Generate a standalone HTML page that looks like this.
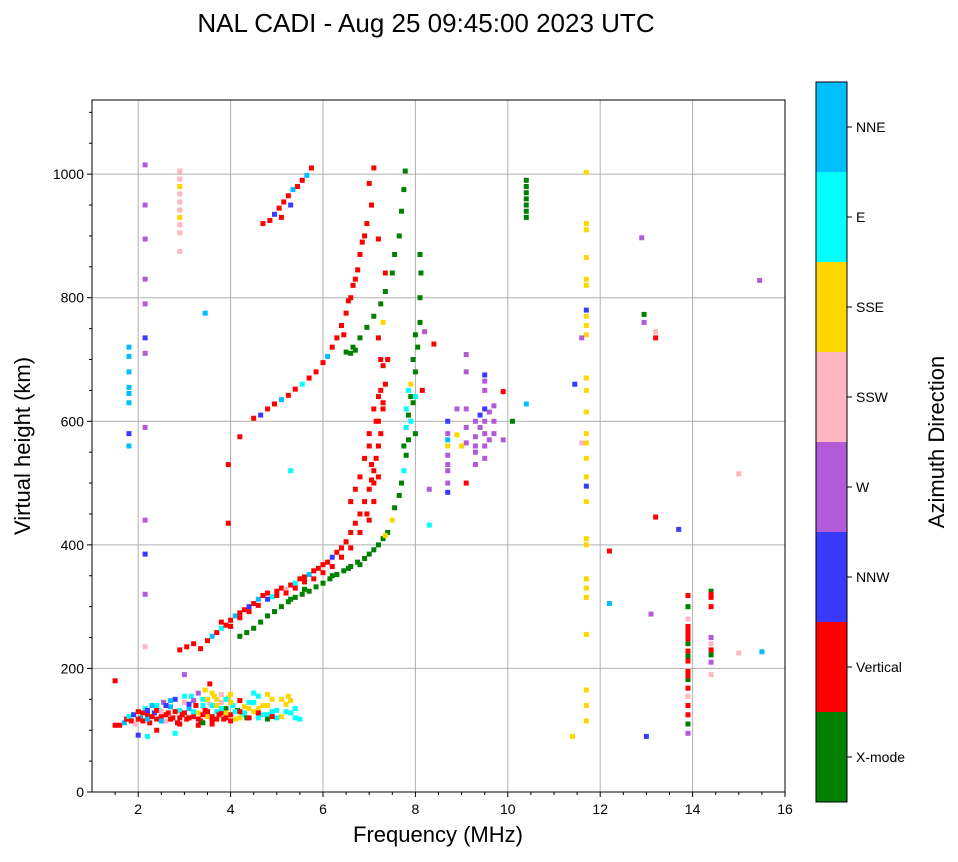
<!DOCTYPE html>
<html><head><meta charset="utf-8"><style>
body{margin:0;background:#fff;font-family:"Liberation Sans",sans-serif}
svg text{font-family:"Liberation Sans",sans-serif}
</style></head><body>
<svg id="chart" width="958" height="857" xmlns="http://www.w3.org/2000/svg">
<text x="426" y="32" font-size="26" text-anchor="middle">NAL CADI - Aug 25 09:45:00 2023 UTC</text>
<g id="grid"></g>
<g id="marks"></g>
<rect x="92" y="100" width="693" height="692" fill="none" stroke="#000" stroke-width="1"/>
<g id="axes"></g>
<text x="438" y="842" font-size="22" text-anchor="middle">Frequency (MHz)</text>
<text transform="translate(30,446) rotate(-90)" font-size="22" text-anchor="middle">Virtual height (km)</text>
<g id="cbar"></g>
<text transform="translate(944,442) rotate(-90)" font-size="22" text-anchor="middle">Azimuth Direction</text>
</svg>
<script>
const xTicks=[2,4,6,8,10,12,14,16];
const yTicks=[0,200,400,600,800,1000];
const dirLabels=["X-mode","Vertical","NNW","W","SSW","SSE","E","NNE"];
const dirColors=["#008000","#ff0000","#3a3aff","#b35ad8","#ffb6c1","#ffd700","#00ffff","#00bfff"];
// [freq MHz, height km, direction index]
const eLayer=[[1.6,108,1],[1.7,112,7],[1.75,118,1],[1.8,122,6],[1.85,115,1],[1.9,125,2],[1.95,110,4],[2.0,130,1],[2.05,120,7],[2.1,115,1],[2.15,135,6],[2.2,125,1],[2.25,112,1],[2.3,140,7],[2.35,128,2],[2.4,118,1],[2.45,132,6],[2.5,122,1],[2.55,145,3],[2.6,115,4],[2.65,128,1],[2.7,138,7],[2.75,120,1],[2.8,150,2],[2.85,112,1],[2.9,132,6],[2.95,125,1],[3.0,145,4],[3.05,118,1],[3.1,135,7],[3.15,155,6],[3.2,122,1],[3.25,140,1],[3.3,128,5],[3.35,115,1],[3.4,150,6],[3.45,132,1],[3.5,122,5],[3.55,142,4],[3.6,118,1],[3.65,155,5],[3.7,130,6],[3.75,125,1],[3.8,145,4],[3.85,118,1],[3.9,135,0],[3.95,152,5],[4.0,125,1],[4.05,140,6],[4.1,118,5],[4.15,132,0],[4.2,148,1],[4.25,125,6],[4.3,138,5],[4.35,120,0],[4.4,145,6],[4.5,130,5],[4.6,120,6],[4.7,140,5],[4.8,125,6],[4.9,150,5],[5.0,132,6],[5.1,122,5],[5.2,142,5],[5.3,128,6],[5.4,120,6],[5.5,118,6],[2.2,90,6],[2.0,92,2],[2.4,100,1],[2.9,110,1],[3.3,108,1],[3.55,175,1],[3.0,190,3],[1.5,180,1],[1.5,108,1],[2.8,95,6]];
const eLayer2=[[2.0,118,1],[2.1,128,1],[2.2,118,7],[2.3,122,1],[2.4,132,1],[2.5,115,7],[2.6,125,1],[2.7,118,1],[2.8,130,1],[2.9,120,1],[3.0,128,1],[3.1,120,1],[3.2,130,6],[3.3,118,1],[3.4,125,1],[3.5,130,1],[3.6,122,1],[3.7,118,1],[3.8,128,1],[3.9,120,1],[4.0,115,1],[3.4,140,6],[3.5,150,5],[3.6,160,5],[3.7,150,5],[3.8,158,4],[3.9,150,6],[4.0,158,5],[3.6,140,6],[3.7,140,5],[3.8,135,6],[3.9,128,5],[4.0,145,5],[4.1,130,6],[4.2,120,5],[4.3,128,6],[4.4,135,5],[4.5,145,6],[4.6,135,5],[4.7,125,6],[4.8,140,5],[4.9,130,6],[5.0,120,6],[5.1,150,5],[5.2,130,6],[5.3,148,5],[5.4,135,6],[4.5,160,6],[4.6,155,6],[4.8,158,5],[5.25,155,5],[4.2,130,1],[4.4,120,1],[4.6,128,1],[4.8,118,0],[4.9,122,1],[3.2,148,3],[3.1,142,2],[2.6,140,2],[2.7,148,7],[2.2,132,2],[2.4,140,6],[3.0,155,6],[3.3,160,3],[3.6,110,1],[3.4,112,0],[2.5,130,4],[3.45,165,5]];
const f1Trace=[[2.9,230,1],[3.05,235,1],[3.2,240,1],[3.35,232,1],[3.5,245,1],[3.6,252,7],[3.7,258,1],[3.8,265,6],[3.9,270,1],[4.0,278,1],[4.1,285,7],[4.2,290,1],[4.3,295,1],[4.4,300,2],[4.5,305,1],[4.6,312,7],[4.7,318,1],[4.8,322,1],[4.9,316,6],[5.0,325,1],[5.1,330,1],[5.2,328,4],[5.3,335,1],[5.4,338,6],[5.5,345,1],[5.6,348,1],[5.7,352,7],[5.8,358,1],[5.9,362,1],[6.0,368,1],[6.1,372,1],[6.2,380,2],[6.3,388,1],[6.4,395,1],[6.5,405,1],[6.6,420,1],[6.7,435,1],[6.8,450,1],[6.9,470,1],[7.0,490,1],[7.05,505,1],[7.1,520,1],[7.15,540,1],[7.2,560,1],[7.25,580,1],[7.2,600,1],[7.3,620,1],[7.25,650,1],[7.35,660,1],[7.3,690,1],[7.4,700,1],[7.0,580,1],[6.9,540,1],[6.8,510,1],[7.1,470,1],[6.95,450,1],[3.8,275,1],[4.0,268,1],[4.2,282,1],[4.4,292,1],[4.6,302,1],[4.8,312,2],[5.0,318,1],[5.2,322,1],[5.4,330,1],[5.6,340,1],[5.8,345,1],[6.0,355,1],[6.2,365,1],[6.4,380,1],[6.6,395,1],[6.8,420,1],[7.0,440,1],[7.1,500,1],[7.2,510,1],[7.05,530,1],[7.15,600,1],[7.3,630,1],[7.2,640,1],[7.1,620,1],[7.0,560,1],[6.6,470,1],[6.7,490,1]];
const xTrace=[[4.2,252,0],[4.35,258,0],[4.5,265,0],[4.65,275,0],[4.8,285,0],[4.95,292,0],[5.1,300,0],[5.25,308,0],[5.4,315,0],[5.55,320,0],[5.7,325,0],[5.85,332,0],[6.0,338,0],[6.15,345,0],[6.3,352,0],[6.45,358,0],[6.6,365,0],[6.75,372,0],[6.9,378,0],[7.0,385,0],[7.1,392,0],[7.2,400,0],[7.3,410,0],[7.4,420,0],[7.5,440,5],[7.55,460,0],[7.65,480,0],[7.7,500,0],[7.75,520,6],[7.8,545,0],[7.85,570,0],[7.9,600,6],[7.95,630,0],[7.85,650,6],[8.0,680,0],[8.05,720,0],[8.1,760,0],[8.1,800,0],[8.12,840,0],[8.1,870,0],[7.8,590,6],[7.9,660,5],[8.0,580,0],[5.3,312,0],[5.6,328,0],[6.2,350,0],[6.55,362,0],[6.8,368,0],[7.35,415,5],[7.8,620,6],[7.9,640,0],[7.95,700,0],[8.0,740,0],[7.75,560,0],[7.85,610,0]];
const secondHop=[[4.5,605,1],[4.65,610,2],[4.8,620,1],[4.95,628,1],[5.1,635,7],[5.25,642,1],[5.4,652,1],[5.55,660,6],[5.7,670,1],[5.85,680,1],[6.0,695,1],[6.1,705,7],[6.2,720,1],[6.3,735,1],[6.4,755,1],[6.5,775,1],[6.55,795,1],[6.65,820,1],[6.75,845,1],[6.8,870,1],[6.85,890,1],[6.95,920,1],[7.05,950,1],[7.0,985,1],[7.1,1010,1],[6.5,712,0],[6.65,720,0],[6.8,735,0],[6.95,752,0],[7.1,770,0],[7.25,790,0],[7.35,810,0],[7.5,840,0],[7.55,870,0],[7.65,900,0],[7.7,940,0],[7.75,975,0],[7.78,1005,0],[7.2,735,1],[7.25,700,1],[7.3,760,5],[7.2,895,1],[7.35,840,1],[6.6,710,0],[6.7,715,0],[6.45,740,1],[6.6,800,1],[6.7,830,1],[6.9,900,1]];
const thirdHop=[[4.7,920,1],[4.85,925,1],[4.95,935,2],[5.05,945,1],[5.15,955,1],[5.25,965,1],[5.35,975,7],[5.45,980,1],[5.55,990,1],[5.65,998,7],[5.75,1010,1],[5.1,930,1],[5.3,950,2]];
const columns=[[1.8,630,7],[1.8,655,7],[1.8,680,7],[1.8,705,7],[1.8,560,7],[1.8,580,2],[1.8,720,7],[1.8,645,7],[2.9,875,4],[2.9,905,4],[2.9,930,5],[2.9,955,4],[2.9,980,5],[2.9,1005,4],[2.9,918,4],[2.9,942,4],[2.9,968,4],[2.9,992,4],[2.15,1015,3],[2.15,950,3],[2.15,895,3],[2.15,830,3],[2.15,790,3],[2.15,735,2],[2.15,710,3],[2.15,590,3],[2.15,440,3],[2.15,385,2],[2.15,320,3],[2.15,235,4],[10.4,930,0],[10.4,950,0],[10.4,970,0],[10.4,990,0],[10.4,940,0],[10.4,960,0],[10.4,980,0],[3.45,775,7],[3.95,530,1],[3.95,435,1],[4.2,575,1],[5.3,520,6],[8.2,745,3],[8.3,490,3],[8.3,432,6],[8.4,725,1],[8.15,650,1],[8.0,640,6]];
const wCluster=[[8.7,580,3],[8.7,545,3],[8.7,520,3],[8.7,500,3],[8.7,600,2],[8.7,560,5],[8.9,620,3],[9.1,680,3],[9.1,620,3],[9.1,590,3],[9.1,565,3],[9.1,500,1],[9.3,600,3],[9.3,575,3],[9.3,550,3],[9.3,530,3],[9.5,675,2],[9.5,650,3],[9.5,620,2],[9.5,600,3],[9.5,580,3],[9.5,560,3],[9.5,540,3],[9.7,625,3],[9.7,600,3],[9.7,580,3],[9.9,570,3],[9.9,648,1],[10.1,600,0],[10.4,628,7],[9.1,708,3],[8.9,578,5],[9.0,560,5],[8.7,485,2],[8.7,530,3],[8.7,570,7],[9.4,590,3],[9.4,610,2],[9.6,570,3],[9.6,615,3],[9.3,560,3],[9.5,665,3]];
const gold=[[11.7,1003,5],[11.7,920,5],[11.7,910,5],[11.7,865,5],[11.7,830,5],[11.7,820,5],[11.7,780,2],[11.7,770,5],[11.7,755,5],[11.7,740,5],[11.7,670,5],[11.7,650,5],[11.7,615,5],[11.7,580,5],[11.7,565,5],[11.7,540,5],[11.7,510,5],[11.7,495,2],[11.7,470,5],[11.7,410,5],[11.7,400,5],[11.7,345,5],[11.7,330,5],[11.7,315,5],[11.7,255,5],[11.7,165,5],[11.7,140,5],[11.7,115,5],[11.4,90,5],[11.6,735,3],[11.45,660,2],[11.6,565,4],[12.2,305,7],[12.2,390,1],[12.9,897,3],[12.95,773,0],[12.95,760,3],[13.2,735,1],[13.2,745,4],[13.2,445,1],[13.7,425,2],[13.1,288,3],[13.0,90,2],[15.45,828,3],[15.0,515,4],[15.5,227,7],[15.0,225,4]];
const lowCols=[[13.9,318,1],[13.9,300,0],[13.9,280,4],[13.9,268,1],[13.9,255,1],[13.9,240,0],[13.9,228,1],[13.9,212,1],[13.9,195,1],[13.9,182,0],[13.9,168,1],[13.9,155,4],[13.9,140,1],[13.9,125,1],[13.9,110,0],[13.9,95,3],[13.9,262,1],[13.9,248,1],[13.9,220,0],[13.9,188,1],[14.4,325,0],[14.4,315,1],[14.4,300,1],[14.4,250,3],[14.4,240,4],[14.4,230,1],[14.4,222,0],[14.4,210,3],[14.4,190,4],[14.4,320,1]];
const allMarks=[eLayer,eLayer2,f1Trace,xTrace,secondHop,thirdHop,columns,wCluster,gold,lowCols];

const X0=92,X1=785,Y0=792,Y1=100,FMIN=1,FMAX=16,HMIN=0,HMAX=1120;
const xs=f=>X0+(f-FMIN)/(FMAX-FMIN)*(X1-X0);
const ys=h=>Y0-(h-HMIN)/(HMAX-HMIN)*(Y0-Y1);
const NS="http://www.w3.org/2000/svg";
function mk(tag,attrs,parent){const e=document.createElementNS(NS,tag);for(const k in attrs)e.setAttribute(k,attrs[k]);parent.appendChild(e);return e;}
const grid=document.getElementById('grid'),axes=document.getElementById('axes'),marks=document.getElementById('marks'),cbar=document.getElementById('cbar');
xTicks.forEach(t=>{const x=xs(t);
 const g=mk('line',{x1:x,x2:x,y1:Y1,y2:Y0,stroke:'#b0b0b0','stroke-width':1},grid);
 
 
 mk('line',{x1:x,x2:x,y1:Y0,y2:Y0+5,stroke:'#000'},axes);
 const l=mk('text',{x:x,y:Y0+22,'font-size':14,'text-anchor':'middle'},axes);l.textContent=t;
 
 
});
for(let f=1.5;f<16;f+=0.5){if(f%2===0)continue;const x=xs(f);mk('line',{x1:x,x2:x,y1:Y0,y2:Y0+3,stroke:'#000'},axes);}
yTicks.forEach(t=>{const y=ys(t);
 const g=mk('line',{x1:X0,x2:X1,y1:y,y2:y,stroke:'#b0b0b0','stroke-width':1},grid);
 
 
 mk('line',{x1:X0-5,x2:X0,y1:y,y2:y,stroke:'#000'},axes);
 const l=mk('text',{x:X0-8,y:y+5,'font-size':14,'text-anchor':'end'},axes);l.textContent=t;
 
 
});
for(let h=50;h<1120;h+=50){if(h%200===0)continue;const y=ys(h);mk('line',{x1:X0-3,x2:X0,y1:y,y2:y,stroke:'#000'},axes);}
allMarks.forEach(arr=>arr.forEach(p=>{
 const r=mk('rect',{x:xs(p[0])-2.5,y:ys(p[1])-2.5,width:5,height:5,fill:dirColors[p[2]]},marks);
 
 
}));
const CB0=802,CBH=90;
dirLabels.forEach((d,i)=>{const y=CB0-(i+1)*CBH;
 const r=mk('rect',{x:816,y:y,width:31,height:CBH,fill:dirColors[i]},cbar);
 
 
 mk('line',{x1:847,x2:852,y1:y+CBH/2,y2:y+CBH/2,stroke:'#000'},cbar);
 const l=mk('text',{x:856,y:y+CBH/2+5,'font-size':14},cbar);l.textContent=d;
 
 
});
mk('rect',{x:816,y:82,width:31,height:720,fill:'none',stroke:'#000'},cbar);
</script>
</body></html>
